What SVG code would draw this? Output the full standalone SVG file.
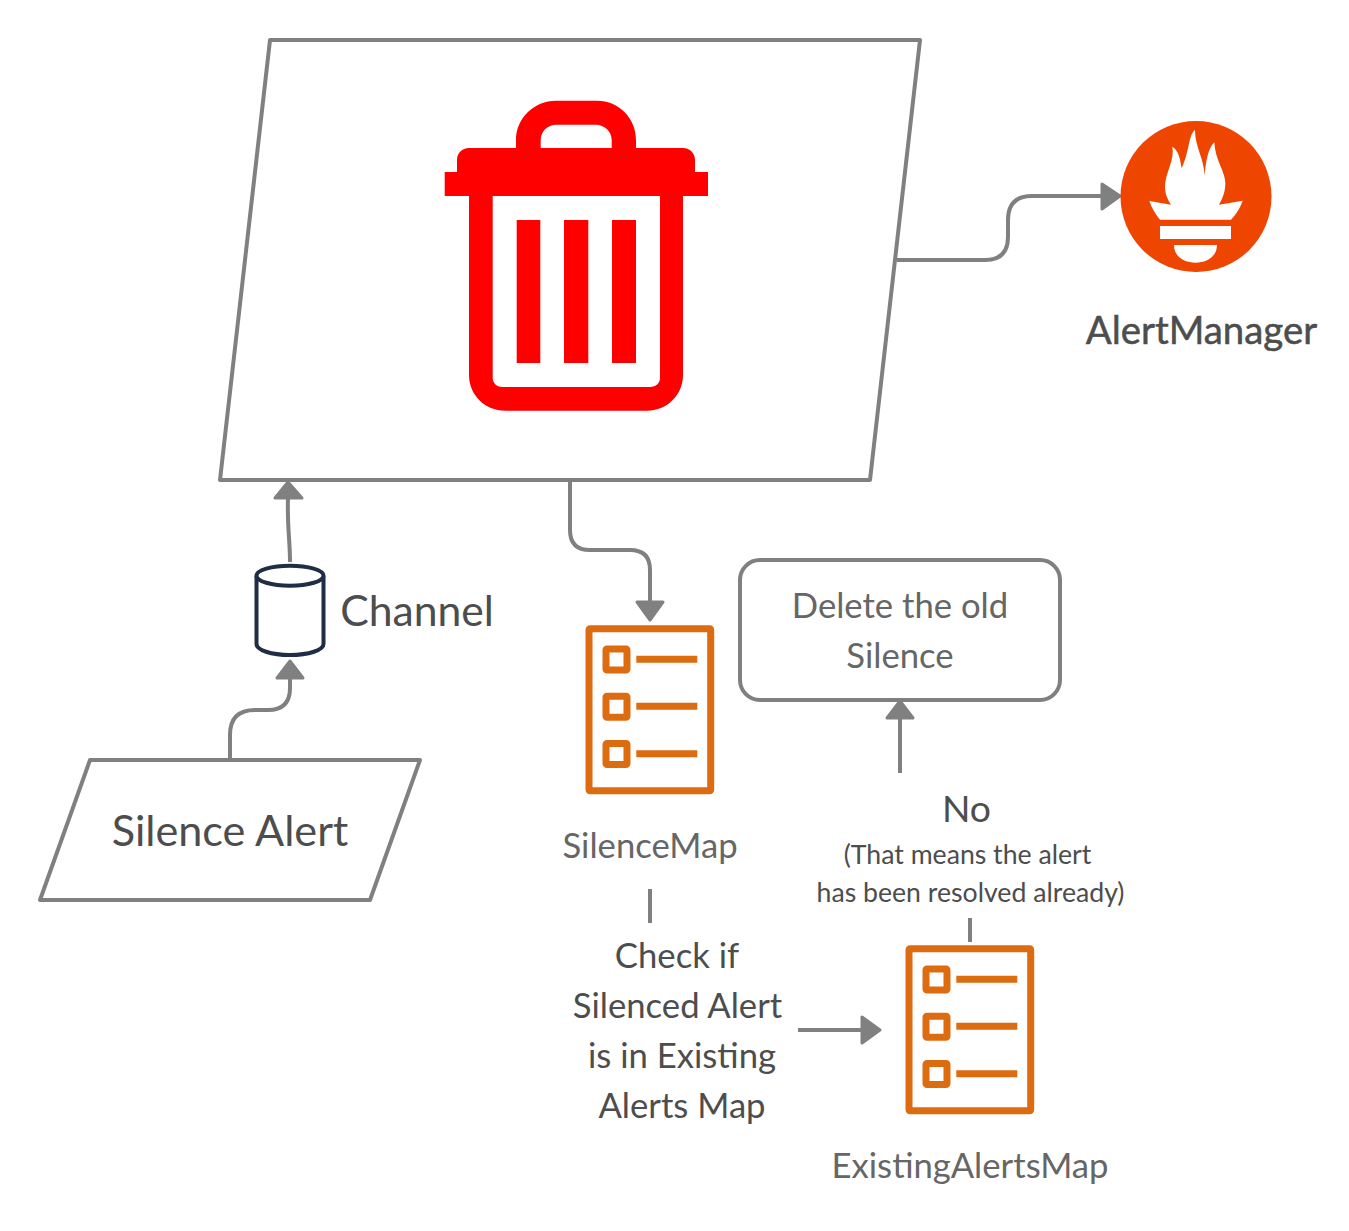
<svg xmlns="http://www.w3.org/2000/svg" width="1349" height="1231" viewBox="0 0 1349 1231">
<style>
text{font-family:Lato,"Liberation Sans",sans-serif;text-anchor:middle}
.shape{fill:#fff;stroke:#808080;stroke-width:4;stroke-linejoin:round}
.conn{fill:none;stroke:#808080;stroke-width:4}
.head{fill:#808080;stroke:#808080;stroke-width:3;stroke-linejoin:round}
.ic{fill:none;stroke:#dd6b10;stroke-width:7}
.dk{fill:#4d4d4d}
.gr{fill:#666}
</style>
<rect width="1349" height="1231" fill="#fff"/>
<g id="connectors">
<path class="conn" d="M290 562C290 540 287 525 288 498"/><path class="head" d="M288 482L302 498L275 498Z"/>
<path class="conn" d="M230 759V735Q230 710 255 710H268Q290 710 290 688V678"/><path class="head" d="M290 661L303 678L277 678Z"/>
<path class="conn" d="M897 260H985Q1008 260 1008 237V220Q1008 196 1032 196H1102"/><path class="head" d="M1120 196L1102 184V209Z"/>
<path class="conn" d="M570 481V530Q570 550 590 550H630Q650 550 650 570V602"/><path class="head" d="M650 620L637 602H663Z"/>
<path class="conn" d="M900 773V718"/><path class="head" d="M900 701L913 718H887Z"/>
<path class="conn" d="M798 1030H863"/><path class="head" d="M880 1030L862 1017V1043Z"/>
<path class="conn" d="M650 889V923"/>
<path class="conn" d="M970 918V942"/>
</g>
<g id="trash-node">
<path class="shape" d="M270 40H920L870 480H220Z"/>
<path fill="#f00" fill-rule="evenodd" d="M516 148V140C516 118 534 100.700 556 100.700H597C619 100.700 636 118 636 140V148H683C690 148 695 153 695 160V172H708V196H683V375C683 395 667 410.700 647 410.700H505C485 410.700 469 395 469 375V196H444.700V172H457V160C457 153 462 148 469 148ZM540.700 148H611.700V140C611.700 131 604 124.700 596 124.700H556C548 124.700 540.700 131 540.700 140ZM492.700 196V378C492.700 383 497 387 502 387H650C656 387 660 383 660 378V196ZM516.700 220V363H540.300V220ZM564 220V363H588.300V220ZM612 220V363H636V220Z"/>
</g>
<g id="alertmanager-node">
<circle cx="1196" cy="196.500" r="75.500" fill="#ee4600"/>
<g transform="translate(1080 110) scale(.33333)" fill="#fff">
<path d="M345 60C325 75 330 120 305 175C300 145 295 120 277 110C285 150 255 190 255 230C255 255 265 270 273 284L208 273C215 295 228 315 240 329H453C470 310 480 295 488 272L417 284C428 265 436 245 436 220C436 185 405 150 403 97C385 115 378 150 374 195C370 140 345 110 345 60Z"/>
<rect x="240" y="348" width="213" height="39"/>
<path d="M282 405H411C411 440 380 458 347 458C312 458 282 440 282 405Z"/>
</g>
<text class="dk" x="1201.500" y="344" font-size="38.400" stroke="#4d4d4d" stroke-width=".5">AlertManager</text>
</g>
<g id="silence-alert-node">
<path class="shape" d="M90 760H420L370 900H40Z"/>
<text class="dk" x="230" y="846" font-size="43.200">Silence Alert</text>
</g>
<g id="channel-node">
<path fill="#fff" stroke="#1f2d45" stroke-width="4" d="M256.500 575.700V644C256.500 650 271 655 290 655C309 655 323.500 650 323.500 644V575.700"/>
<ellipse cx="290" cy="575.700" rx="33.500" ry="10" fill="#fff" stroke="#1f2d45" stroke-width="4"/>
<text class="dk" x="417" y="626" font-size="42.670">Channel</text>
</g>
<g id="silencemap-node">
<rect class="ic" x="589" y="628.800" width="121.700" height="162" rx="1"/>
<rect class="ic" x="606" y="649" width="21" height="21" rx="1"/>
<rect class="ic" x="606" y="696.300" width="21" height="21" rx="1"/>
<rect class="ic" x="606" y="743.500" width="21" height="21" rx="1"/>
<path class="ic" d="M636.300 659.300H697.300M636.300 706.300H697.300M636.300 753.700H697.300"/>
<text class="gr" x="650" y="858" font-size="34.670">SilenceMap</text>
</g>
<g id="delete-node">
<rect class="shape" x="740" y="560" width="320" height="140" rx="20"/>
<text class="gr" x="900" y="618" font-size="34.670">Delete the old</text>
<text class="gr" x="900" y="668" font-size="34.670">Silence</text>
</g>
<g id="no-label">
<text class="dk" x="966.500" y="822" font-size="37.330">No</text>
<text class="dk" x="967.500" y="864" font-size="26.670">(That means the alert</text>
<text class="dk" x="970.500" y="902" font-size="26.670">has been resolved already)</text>
</g>
<g id="check-label">
<text class="dk" x="677" y="968" font-size="34.670">Check if</text>
<text class="dk" x="677.500" y="1018" font-size="34.670">Silenced Alert</text>
<text class="dk" x="682" y="1068" font-size="34.670">is in Existing</text>
<text class="dk" x="682" y="1118" font-size="34.670">Alerts Map</text>
</g>
<g id="existingalertsmap-node">
<rect class="ic" x="909" y="948.800" width="121.700" height="162" rx="1"/>
<rect class="ic" x="926" y="969" width="21" height="21" rx="1"/>
<rect class="ic" x="926" y="1016.300" width="21" height="21" rx="1"/>
<rect class="ic" x="926" y="1063.500" width="21" height="21" rx="1"/>
<path class="ic" d="M956.300 979.300H1017.300M956.300 1026.300H1017.300M956.300 1073.700H1017.300"/>
<text class="gr" x="970" y="1178" font-size="34.670">ExistingAlertsMap</text>
</g>
</svg>
